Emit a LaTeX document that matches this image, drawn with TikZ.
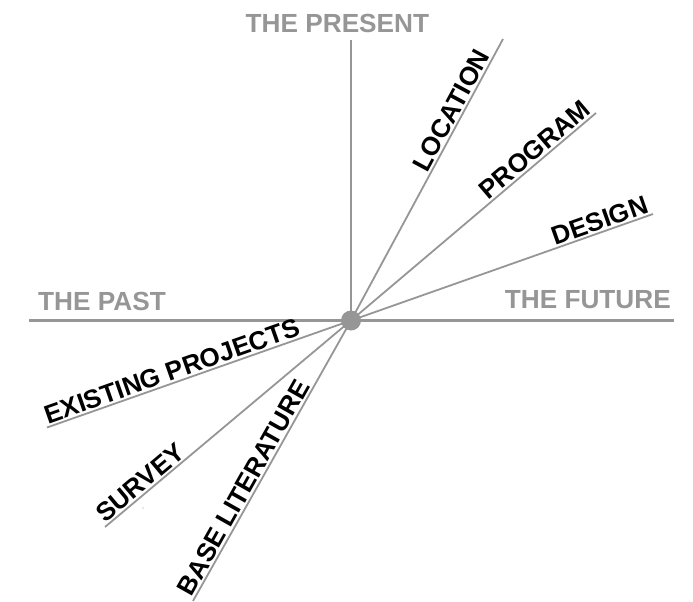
\documentclass[tikz,border=0pt]{standalone}
\usepackage{fontspec}
\setmainfont{Liberation Sans}[BoldFont={Liberation Sans Bold}]
\newfontfamily\labelfont{Liberation Sans Bold}
\begin{document}
\begin{tikzpicture}[x=1pt,y=-1pt,
  axis/.style={draw=axisgray,line width=2.4pt},
  ray/.style={draw=axisgray,line width=1.8pt},
  epoch/.style={text=axisgray,font=\labelfont\fontsize{26.2}{30}\selectfont,inner sep=0pt},
  phase/.style={text=black,font=\labelfont\fontsize{26}{30}\selectfont,inner sep=1.6pt,sloped}]
\definecolor{axisgray}{RGB}{150,150,150}
\useasboundingbox (0,0) rectangle (693,602);

% hub and outer ends
\coordinate (o) at (351,320.5);
\coordinate (top) at (351,40);
\coordinate (west) at (29,320.5);
\coordinate (east) at (674,320.5);
\coordinate (loc) at (503,39);
\coordinate (prog) at (596,113);
\coordinate (des) at (653,214);
\coordinate (exist) at (47,427.5);
\coordinate (surv) at (105,527);
\coordinate (base) at (193,601);

% time axes
\draw[axis] (o) -- (top);
\draw[axis] (west) -- (east);

% activity rays with their labels
\draw[ray] (o) -- (loc) node[phase,pos=0.944,anchor=south east] {LOCATION};
\draw[ray] (o) -- (prog) node[phase,pos=1,anchor=south east] {PROGRAM};
\draw[ray] (o) -- (des) node[phase,pos=1,anchor=south east] {DESIGN};
\draw[ray] (exist) -- (o) node[phase,pos=0,anchor=south west] {EXISTING PROJECTS};
\draw[ray] (surv) -- (o) node[phase,pos=0,anchor=south west] {SURVEY};
\draw[ray] (base) -- (o) node[phase,pos=0,anchor=south west] {BASE LITERATURE};

\node[circle,fill=axisgray,minimum size=20pt,inner sep=0pt] (hub) at (o) {};

% axis captions
\node[epoch,anchor=base west] (present) at (245.5,32.3) {THE PRESENT};
\node[epoch,anchor=base west] (past) at (38,310) {THE PAST};
\node[epoch,anchor=base east] (future) at (671,308.3) {THE FUTURE};

\fill[axisgray] (143,508) circle (0.7);
\end{tikzpicture}
\end{document}
